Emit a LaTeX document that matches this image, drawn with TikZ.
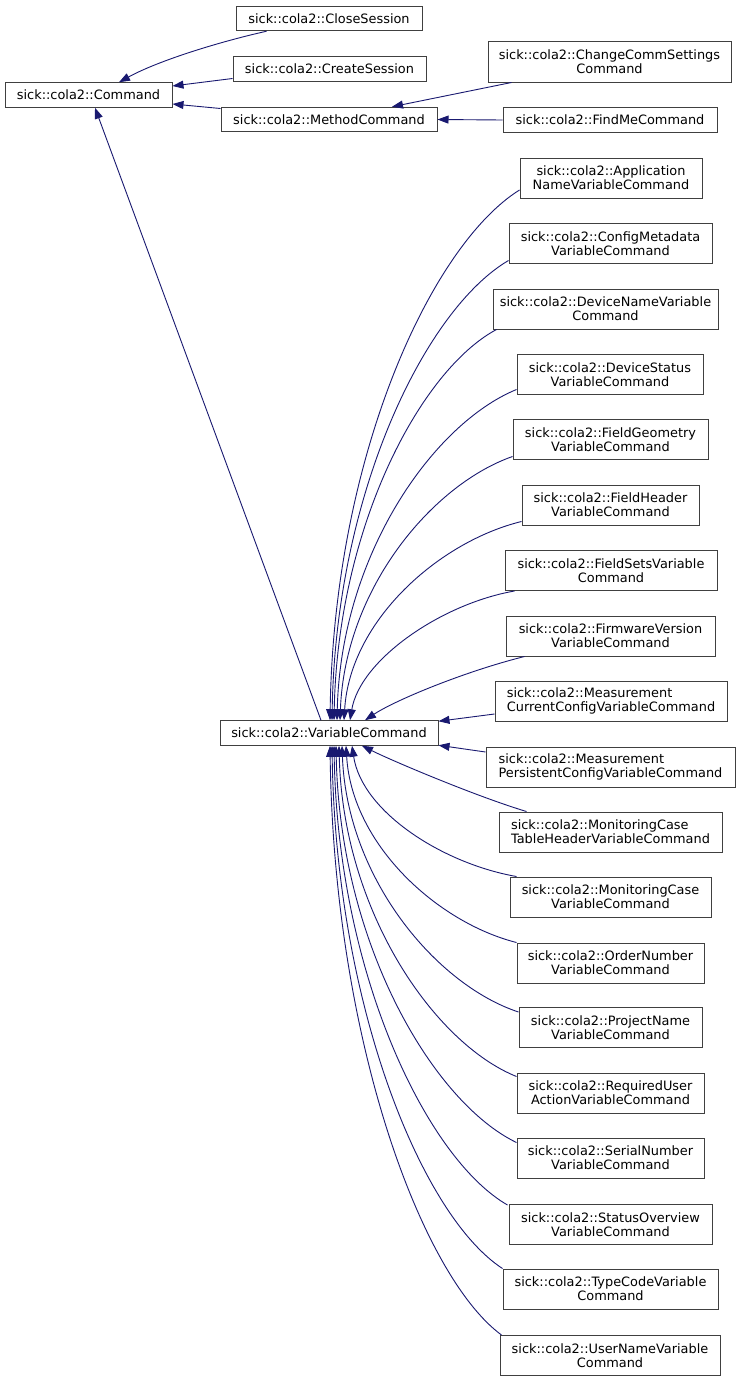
\documentclass[tikz,border=0pt]{standalone}
\usepackage{fontspec}
\setmainfont{DejaVu Sans}
\usetikzlibrary{arrows.meta}
\definecolor{edgeblue}{HTML}{191970}
\definecolor{boxline}{HTML}{404040}
\begin{document}
\begin{tikzpicture}[x=1pt,y=-1pt,
  box/.style={draw=boxline, line width=1pt, fill=white, inner sep=0pt,
    align=center, minimum height=40pt, font=\fontsize{12.9}{14}\selectfont},
  lbox/.style={box, align=left},
  sbox/.style={box, minimum height=24.5pt},
  edge/.style={draw=edgeblue, line width=0.9pt, -{Triangle[length=11pt,width=8pt]}}]
\useasboundingbox[fill=white] (0,0) rectangle (740,1381);

% left part
\node[sbox, minimum width=167pt] (cmd) at (88.5,95) {sick::cola2::Command};
\node[sbox, minimum width=186pt] (close) at (329,18.5) {sick::cola2::CloseSession};
\node[sbox, minimum width=193pt] (create) at (329.5,69) {sick::cola2::CreateSession};
\node[sbox, minimum width=216pt] (method) at (329,119.5) {sick::cola2::MethodCommand};
\node[box, minimum width=243pt] (change) at (609.5,62) {sick::cola2::ChangeCommSettings\\Command};
\node[sbox, minimum width=214pt] (findme) at (610,120) {sick::cola2::FindMeCommand};
\node[sbox, minimum width=218pt] (var) at (329,733) {sick::cola2::VariableCommand};

% right column
\node[box, minimum width=182pt] (app) at (611,178) {sick::cola2::Application\\NameVariableCommand};
\node[box, minimum width=203pt] (cfg) at (610.5,243.5) {sick::cola2::ConfigMetadata\\VariableCommand};
\node[box, minimum width=225pt] (dev) at (605.5,309) {sick::cola2::DeviceNameVariable\\Command};
\node[box, minimum width=186pt] (dst) at (610,374.5) {sick::cola2::DeviceStatus\\VariableCommand};
\node[box, minimum width=195pt] (fgeo) at (610.5,439.5) {sick::cola2::FieldGeometry\\VariableCommand};
\node[box, minimum width=177pt] (fhdr) at (610.5,505) {sick::cola2::FieldHeader\\VariableCommand};
\node[box, minimum width=212pt] (fsets) at (611,570.5) {sick::cola2::FieldSetsVariable\\Command};
\node[box, minimum width=209pt] (fw) at (610.5,636) {sick::cola2::FirmwareVersion\\VariableCommand};
\node[lbox, minimum width=232pt] (mcur) at (611,701) {sick::cola2::Measurement\\CurrentConfigVariableCommand};
\node[lbox, minimum width=249pt] (mper) at (610.5,767) {sick::cola2::Measurement\\PersistentConfigVariableCommand};
\node[lbox, minimum width=223pt] (mtab) at (610.5,832) {sick::cola2::MonitoringCase\\TableHeaderVariableCommand};
\node[box, minimum width=201pt] (mcase) at (610.5,897) {sick::cola2::MonitoringCase\\VariableCommand};
\node[box, minimum width=187pt] (ord) at (610.5,963) {sick::cola2::OrderNumber\\VariableCommand};
\node[box, minimum width=183pt] (proj) at (610.5,1027.5) {sick::cola2::ProjectName\\VariableCommand};
\node[box, minimum width=187pt] (req) at (610.5,1093) {sick::cola2::RequiredUser\\ActionVariableCommand};
\node[box, minimum width=187pt] (ser) at (610.5,1158) {sick::cola2::SerialNumber\\VariableCommand};
\node[box, minimum width=203pt] (stat) at (610.5,1224.5) {sick::cola2::StatusOverview\\VariableCommand};
\node[box, minimum width=215pt] (type) at (610.5,1289) {sick::cola2::TypeCodeVariable\\Command};
\node[box, minimum width=220pt] (user) at (610,1355.5) {sick::cola2::UserNameVariable\\Command};

% edges to Command
\draw[edge] ([xshift=31pt]close.south west) .. controls +(-45,10) and +(40,-22) .. ([xshift=30.5pt]cmd.north);
\draw[edge] ([yshift=-9.5pt]create.west) -- ([yshift=9pt]cmd.east);
\draw[edge] ([yshift=11pt]method.west) -- ([yshift=-9pt]cmd.east);
\draw[edge] ([xshift=-8pt]var.north) -- ([xshift=6.5pt]cmd.south);
% edges to MethodCommand
\draw[edge] ([xshift=24pt]change.south west) -- ([xshift=63pt]method.north);
\draw[edge] (findme.west) -- (method.east);

% upper children to VariableCommand
\draw[edge] ([yshift=-12pt]app.west) .. controls +(-88,55) and +(4,-265) .. ([xshift=1pt]var.north);
\draw[edge] ([yshift=3.5pt]cfg.south west) .. controls +(-82,48) and +(4,-230) .. ([xshift=3pt]var.north);
\draw[edge] ([xshift=4pt]dev.south west) .. controls +(-75,40) and +(4,-196) .. ([xshift=5pt]var.north);
\draw[edge] ([yshift=5.5pt]dst.south west) .. controls +(-83,34) and +(4,-166) .. ([xshift=8pt]var.north);
\draw[edge] ([yshift=3.5pt]fgeo.south west) .. controls +(-80,28) and +(5,-132) .. ([xshift=11pt]var.north);
\draw[edge] ([yshift=4pt]fhdr.south west) .. controls +(-82,20) and +(6,-100) .. ([xshift=15pt]var.north);
\draw[edge] ([xshift=10pt]fsets.south west) .. controls +(-74,13) and +(10,-60) .. ([xshift=21pt]var.north);
\draw[edge] ([xshift=19pt]fw.south west) .. controls +(-60,15) and +(30,-20) .. ([xshift=36pt]var.north);
\draw[edge] ([yshift=-13pt]mcur.west) -- ([yshift=-1pt]var.north east);
\draw[edge] ([yshift=15pt]mper.west) -- ([yshift=0.5pt]var.south east);

% lower children to VariableCommand
\draw[edge] ([xshift=28pt]mtab.north west) .. controls +(-50,-15) and +(30,15) .. ([xshift=33pt]var.south);
\draw[edge] ([xshift=7pt]mcase.north west) .. controls +(-74,-13) and +(10,66) .. ([xshift=23pt]var.south);
\draw[edge] (ord.north west) .. controls +(-79,-20) and +(6,99) .. ([xshift=17pt]var.south);
\draw[edge] ([yshift=-5pt]proj.north west) .. controls +(-82,-27) and +(5,133) .. ([xshift=13pt]var.south);
\draw[edge] ([yshift=-4pt]req.north west) .. controls +(-82,-33) and +(4,166) .. ([xshift=10pt]var.south);
\draw[edge] ([yshift=-5pt]ser.north west) .. controls +(-83,-40) and +(4,199) .. ([xshift=7pt]var.south);
\draw[edge] ([xshift=-1pt,yshift=-1pt]stat.north west) .. controls +(-80,-46) and +(4,230) .. ([xshift=5pt]var.south);
\draw[edge] (type.north west) .. controls +(-80,-52) and +(4,262) .. ([xshift=3pt]var.south);
\draw[edge] ([xshift=2pt]user.north west) .. controls +(-80,-59) and +(4,295) .. ([xshift=1pt]var.south);
\end{tikzpicture}
\end{document}
